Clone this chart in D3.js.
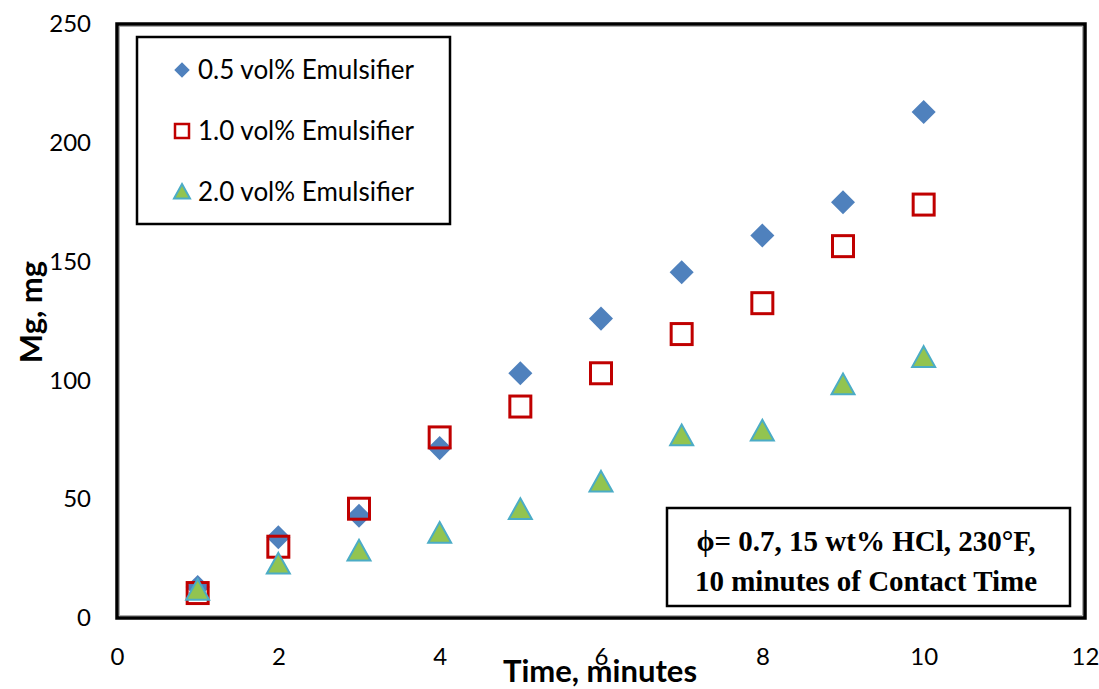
<!DOCTYPE html>
<html><head><meta charset="utf-8">
<script src="https://cdn.jsdelivr.net/npm/d3@7"></script>
<style>body{margin:0;background:#fff}</style>
</head><body>
<script>
const times = [1,2,3,4,5,6,7,8,9,10];
const s05 = [13,34,43,71.5,103,126,145.5,161,175,213];
const s10 = [10.5,30,46,76,89,103,119.5,132.5,156.5,174];
const s20 = [11,22,27.5,35,45,56.5,76,78,97.5,109];
const seriesNames = ["0.5 vol% Emulsifier","1.0 vol% Emulsifier","2.0 vol% Emulsifier"];
const xTicks = [0,2,4,6,8,10,12];
const yTicks = [0,50,100,150,200,250];
const note = ["\u03D5= 0.7, 15 wt% HCl, 230\u00B0F,","10 minutes of Contact Time"];

const W=1099,H=689;
const svg=d3.select("body").append("svg").attr("width",W).attr("height",H);
const L=117,R=1085,T=24,B=618;
const x=d3.scaleLinear().domain([0,12]).range([L,R]);
const y=d3.scaleLinear().domain([0,250]).range([B,T]);
const font="Lato, 'Open Sans', sans-serif";

// axes (labels only)
const xa=svg.append("g").attr("transform",`translate(0,${B})`)
 .call(d3.axisBottom(x).tickValues(xTicks).tickSize(0).tickPadding(30));
xa.select(".domain").remove();
xa.selectAll("text").attr("font-family",font).attr("font-size",24).attr("fill","#000");
const ya=svg.append("g").attr("transform",`translate(${L},0)`)
 .call(d3.axisLeft(y).tickValues(yTicks).tickSize(0).tickPadding(26));
ya.select(".domain").remove();
ya.selectAll("text").attr("font-family",font).attr("font-size",24).attr("fill","#000");

// plot border
svg.append("rect").attr("x",L).attr("y",T).attr("width",R-L).attr("height",B-T)
 .attr("fill","none").attr("stroke","#000").attr("stroke-width",3.5);
svg.append("rect").attr("x",L+2.5).attr("y",T+2.5).attr("width",R-L-5).attr("height",B-T-5)
 .attr("fill","none").attr("stroke","#999").attr("stroke-width",0.8);

// axis titles
svg.append("text").attr("x",600).attr("y",682).attr("text-anchor","middle")
 .attr("font-family",font).attr("font-weight","bold").attr("font-size",31).text("Time, minutes");
svg.append("text").attr("transform","translate(42,312) rotate(-90)").attr("text-anchor","middle")
 .attr("font-family",font).attr("font-weight","bold").attr("font-size",31).text("Mg, mg");

const tri=(cx,cy,s)=>{const h=s*0.9;return `M${cx},${cy-h*0.62}L${cx+s/2},${cy+h*0.38}L${cx-s/2},${cy+h*0.38}Z`;};

function drawDiamond(g,cx,cy,sz){g.append("path").attr("d",d3.symbol().type(d3.symbolSquare).size(sz*sz)())
 .attr("transform",`translate(${cx},${cy}) rotate(45)`).attr("fill","#4f81bd");}
function drawSquare(g,cx,cy,sz){g.append("rect").attr("x",cx-sz/2).attr("y",cy-sz/2).attr("width",sz).attr("height",sz)
 .attr("fill","none").attr("stroke","#c00000").attr("stroke-width",3);}
function drawTri(g,cx,cy,sz){g.append("path").attr("d",tri(cx,cy,sz)).attr("fill","#92c450").attr("stroke","#4bacc6").attr("stroke-width",2);}

const pts=svg.append("g");
times.forEach((t,i)=>drawDiamond(pts,x(t),y(s05[i]),17));
times.forEach((t,i)=>drawSquare(pts,x(t),y(s10[i]),21));
times.forEach((t,i)=>drawTri(pts,x(t),y(s20[i]),23));

// legend
svg.append("rect").attr("x",137).attr("y",37).attr("width",313).attr("height",187)
 .attr("fill","#fff").attr("stroke","#000").attr("stroke-width",2.5);
const lg=svg.append("g");
const rowsY=[70,131,192];
drawDiamond(lg,182,rowsY[0],11);
lg.append("rect").attr("x",175).attr("y",rowsY[1]-7).attr("width",14).attr("height",14)
 .attr("fill","none").attr("stroke","#c00000").attr("stroke-width",2.5);
drawTri(lg,182,rowsY[2]+1,16);
seriesNames.forEach((n,i)=>lg.append("text").attr("x",198).attr("y",rowsY[i]).attr("dy","0.36em")
 .attr("font-family",font).attr("font-size",26).text(n));

// note box
svg.append("rect").attr("x",667).attr("y",508).attr("width",403).attr("height",98)
 .attr("fill","#fff").attr("stroke","#000").attr("stroke-width",2.5);
note.forEach((s,i)=>svg.append("text").attr("x",866).attr("y",[551,591][i]).attr("text-anchor","middle")
 .attr("font-family","'Liberation Serif', 'Times New Roman', serif").attr("font-weight","bold").attr("font-size",29).text(s));
</script>
</body></html>
